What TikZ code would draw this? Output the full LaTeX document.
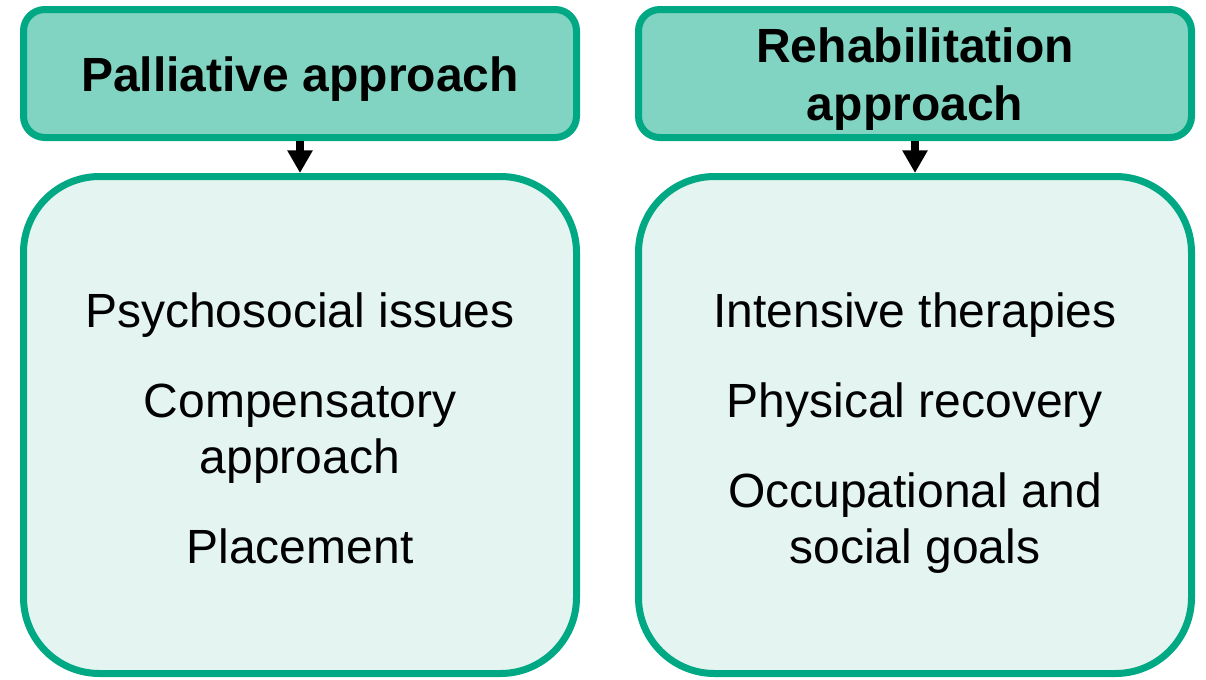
\documentclass[tikz,border=0pt]{standalone}
\usepackage{fontspec}
\setmainfont{Liberation Sans}
\usetikzlibrary{arrows.meta}
\definecolor{rim}{HTML}{00A884}
\definecolor{headfill}{HTML}{80D4C1}
\definecolor{bodyfill}{HTML}{E4F5F1}
\begin{document}
\begin{tikzpicture}[x=0.75pt,y=-0.75pt,
  headbox/.style={draw=rim,fill=headfill,line width=5.25pt,rounded corners=16pt,
    minimum width=414.75pt,minimum height=96pt,inner sep=0pt},
  bodybox/.style={draw=rim,fill=bodyfill,line width=5.25pt,rounded corners=57pt,
    minimum width=414.75pt,minimum height=372.75pt,inner sep=0pt},
  headtext/.style={anchor=base,font=\fontsize{36pt}{43pt}\selectfont\bfseries,inner sep=0pt},
  itemtext/.style={anchor=base,font=\fontsize{36pt}{43pt}\selectfont,inner sep=0pt},
  link/.style={draw=black,line width=5.4pt,-{Triangle[width=18pt,length=17pt]}}]
\useasboundingbox (0,0) rectangle (1206,679);

% left column
\node[headbox] (pal) at (300,73.5) {};
\node[bodybox] (palbody) at (300,425) {};
\node[headtext] (paltitle) at (300,91.7) {Palliative approach};
\node[itemtext] (psy) at (300,327) {Psychosocial issues};
\node[itemtext] (comp) at (300,417) {Compensatory};
\node[itemtext] (compb) at (300,473.5) {approach};
\node[itemtext] (place) at (300,563.5) {Placement};

% right column
\node[headbox] (reh) at (915,73.5) {};
\node[bodybox] (rehbody) at (915,425) {};
\node[headtext] (rehtitle) at (915,62.7) {Rehabilitation};
\node[headtext] (rehtitleb) at (915,120) {approach};
\node[itemtext] (int) at (915,327) {Intensive therapies};
\node[itemtext] (phys) at (915,417) {Physical recovery};
\node[itemtext] (occ) at (915,507) {Occupational and};
\node[itemtext] (occb) at (915,563.5) {social goals};

% connectors
\draw[link] (pal.south) -- (palbody.north);
\draw[link] (reh.south) -- (rehbody.north);
\end{tikzpicture}
\end{document}
